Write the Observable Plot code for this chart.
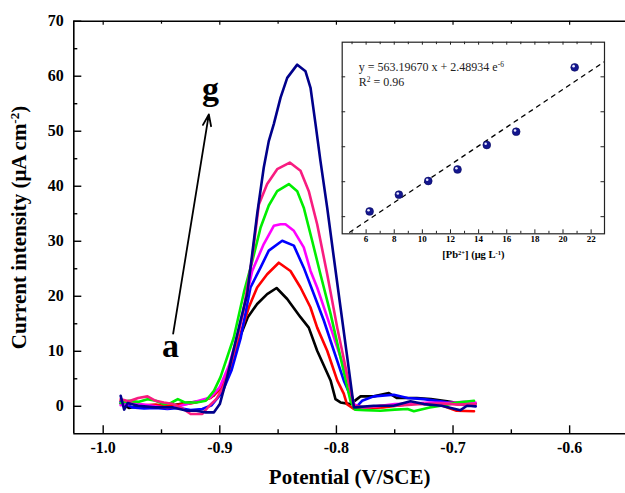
<!DOCTYPE html>
<html><head><meta charset="utf-8">
<script src="https://cdn.jsdelivr.net/npm/d3@7"></script>
<script src="https://cdn.jsdelivr.net/npm/@observablehq/plot@0.6"></script>
<style>
html,body{margin:0;padding:0;background:#fff;}
#chart{position:relative;width:625px;height:493px;}
#inset{position:absolute;left:330px;top:30px;}
</style></head><body>
<div id="chart"><div id="main"></div><div id="inset"></div></div>
<script>
// ---------- DATA ----------
const seriesNames = ["a", "b", "c", "d", "e", "f", "g"];
const seriesColors = ["#000000", "#FF0000", "#0000FF", "#FF00FF", "#00EE00", "#F81C80", "#00008B"];

// [potential (V/SCE), current (µA cm^-2)]
const curveA = [[-0.985,0.5],[-0.978,-0.3],[-0.97,0.0],[-0.96,-0.2],[-0.95,-0.1],[-0.94,0.2],[-0.93,0.6],[-0.92,0.8],[-0.912,1.2],[-0.905,2.0],[-0.898,4.0],[-0.89,8.0],[-0.882,13.0],[-0.876,16.2],[-0.868,18.6],[-0.8594,20.4],[-0.8513,21.5],[-0.8422,19.5],[-0.8308,16.2],[-0.8237,14.3],[-0.8165,10.1],[-0.805,4.7],[-0.8008,1.3],[-0.7965,0.7],[-0.788,0.4],[-0.7793,1.8],[-0.768,1.8],[-0.755,2.4],[-0.748,1.5],[-0.731,1.5],[-0.719,1.3],[-0.705,0.9],[-0.6907,0.4],[-0.6807,0.5]];
const curveB = [[-0.985,1.0],[-0.975,0.6],[-0.965,0.2],[-0.955,0.3],[-0.945,0.0],[-0.935,0.3],[-0.925,0.5],[-0.915,1.0],[-0.908,1.5],[-0.9,3.0],[-0.892,6.5],[-0.884,12],[-0.8751,18],[-0.868,21.6],[-0.8594,24],[-0.8494,26.1],[-0.8394,24.6],[-0.8308,21.6],[-0.8223,18],[-0.8165,14.3],[-0.8079,10.1],[-0.7993,4.7],[-0.7937,2.3],[-0.791,0.4],[-0.785,-0.5],[-0.77,-0.3],[-0.76,-0.2],[-0.745,0.2],[-0.733,0.5],[-0.72,0.4],[-0.71,0.2],[-0.697,-0.8],[-0.682,-0.9]];
const curveC = [[-0.985,0.8],[-0.975,-0.2],[-0.965,-0.4],[-0.955,-0.3],[-0.945,-0.5],[-0.935,-0.3],[-0.925,-0.7],[-0.915,-0.5],[-0.907,0.2],[-0.898,2.5],[-0.89,6.5],[-0.882,12.5],[-0.8737,21.6],[-0.8651,25.2],[-0.858,28.3],[-0.8465,30.1],[-0.8365,29.2],[-0.828,25.2],[-0.8194,20.4],[-0.8108,15.6],[-0.8022,10.1],[-0.7937,4.7],[-0.785,0.4],[-0.7836,-0.3],[-0.778,1.0],[-0.768,1.8],[-0.7508,2.1],[-0.739,1.5],[-0.725,1.3],[-0.7107,0.9],[-0.6964,0.4],[-0.6807,0.0]];
const curveD = [[-0.985,0.2],[-0.975,0.5],[-0.965,0.3],[-0.955,0.0],[-0.945,-0.3],[-0.935,0.0],[-0.925,0.6],[-0.915,1.2],[-0.908,1.6],[-0.9,3.5],[-0.892,7.5],[-0.884,13.5],[-0.8722,24.6],[-0.8623,29.5],[-0.8537,32.8],[-0.8479,33.1],[-0.8437,33.1],[-0.8365,31.9],[-0.828,28.9],[-0.8222,24.6],[-0.8165,21.6],[-0.8079,16.2],[-0.7993,10.7],[-0.7907,5.3],[-0.785,0.4],[-0.778,-0.3],[-0.765,0.0],[-0.75,0.4],[-0.735,0.5],[-0.72,0.7],[-0.705,0.6],[-0.69,0.8],[-0.6807,0.7]];
const curveE = [[-0.985,0.6],[-0.978,1.0],[-0.97,0.8],[-0.962,1.3],[-0.955,1.0],[-0.948,0.4],[-0.942,0.6],[-0.936,1.3],[-0.93,0.7],[-0.92,0.7],[-0.912,1.0],[-0.905,2.8],[-0.8994,5.3],[-0.888,12.5],[-0.879,21],[-0.872,26.5],[-0.865,32.5],[-0.858,36.5],[-0.8508,39.1],[-0.8408,40.4],[-0.8336,39.1],[-0.828,36.1],[-0.8208,30.1],[-0.8137,24],[-0.805,16.8],[-0.7965,8.9],[-0.788,1.0],[-0.784,-0.6],[-0.775,-0.7],[-0.7622,-0.8],[-0.75,-0.6],[-0.739,-0.5],[-0.7336,-0.9],[-0.72,-0.2],[-0.705,0.3],[-0.6964,0.7],[-0.682,1.0]];
const curveF = [[-0.985,1.3],[-0.978,0.9],[-0.97,1.5],[-0.962,1.8],[-0.955,1.0],[-0.948,0.7],[-0.94,0.4],[-0.932,-0.4],[-0.925,-1.4],[-0.915,-1.4],[-0.909,0.1],[-0.903,1.3],[-0.897,3.5],[-0.889,9],[-0.88,17],[-0.8722,27],[-0.8665,36.7],[-0.8594,40.4],[-0.8508,43.1],[-0.84,44.3],[-0.8308,42.8],[-0.8237,39.1],[-0.8165,33.1],[-0.8079,24],[-0.7993,14.3],[-0.791,5.9],[-0.785,0.1],[-0.775,-0.2],[-0.762,0.1],[-0.748,0.1],[-0.73,0.4],[-0.71,0.5],[-0.695,0.3],[-0.6807,0.4]];
const curveG = [[-0.985,1.9],[-0.982,-0.6],[-0.979,0.6],[-0.976,0.4],[-0.97,0.1],[-0.955,-0.2],[-0.94,-0.2],[-0.928,-0.8],[-0.92,-0.8],[-0.912,-1.1],[-0.905,-1.1],[-0.9,0.4],[-0.8937,5.3],[-0.8822,15.6],[-0.8765,20.4],[-0.8722,27.7],[-0.868,34.9],[-0.8623,43.4],[-0.858,48.2],[-0.8537,51.3],[-0.8479,56.1],[-0.8422,59.7],[-0.8336,62.1],[-0.8265,60.9],[-0.8222,57.9],[-0.8179,51.3],[-0.8137,44.6],[-0.8079,36.1],[-0.8022,27],[-0.7965,18],[-0.7907,8.9],[-0.785,-0.2],[-0.768,0.1],[-0.751,0.1],[-0.7365,0.9],[-0.725,0.4],[-0.71,0.1],[-0.6936,-0.7],[-0.688,0.1],[-0.6807,0.0]];

const potentialDomain = [-1.0252, -0.5521];
const currentDomain = [-5, 70];
const potentialTicks = [-1.0, -0.9, -0.8, -0.7, -0.6];
const potentialMinorTicks = [-0.95, -0.85, -0.75, -0.65];
const currentTicks = [0, 10, 20, 30, 40, 50, 60, 70];
const currentMinorTicks = [5, 15, 25, 35, 45, 55, 65];

const labelMarks = [{text: "g", potential: -0.908, current: 55.6}, {text: "a", potential: -0.9423, current: 8.9}];
const arrowData = [{x1: -0.94, y1: 13.2, x2: -0.9094, y2: 53.05}];

// inset: calibration
const leadConc = [6.25, 8.33, 10.42, 12.5, 14.58, 16.67, 20.83];
const peakCurrent = [21.5, 26.3, 30.2, 33.5, 40.5, 44.3, 62.7];
const insetXDomain = [4.3, 22.95];
const insetYDomain = [15.1, 69.9];
const insetXTicks = [6, 8, 10, 12, 14, 16, 18, 20, 22];
const insetXMinorTicks = [5, 7, 9, 11, 13, 15, 17, 19, 21];
const insetYTicks = [20, 30, 40, 50, 60];
const equationLines = ["y = 563.19670 x + 2.48934 e^{-6}", "R^{2} = 0.96"];

// ---------- BUILD ----------
const serif = "'Liberation Serif','Times New Roman',serif";
const rows = [curveA, curveB, curveC, curveD, curveE, curveF, curveG]
  .flatMap((c, i) => c.map(([p, v]) => ({series: seriesNames[i], potential: p, current: v})));

const W = 625, H = 493, mL = 73.3, mR = 0, mT = 20.7, mB = 59.7;
const innerW = W - mL - mR, innerH = H - mT - mB;

const main = Plot.plot({
  width: W, height: H,
  marginLeft: mL, marginRight: mR, marginTop: mT, marginBottom: mB,
  x: {domain: potentialDomain, axis: null},
  y: {domain: currentDomain, axis: null},
  color: {domain: seriesNames, range: seriesColors},
  style: {fontFamily: serif, fontSize: "16px", fontWeight: "bold", background: "transparent", overflow: "visible"},
  marks: [
    Plot.line(rows, {x: "potential", y: "current", z: "series", stroke: "series", strokeWidth: 2.6, strokeLinejoin: "round", strokeLinecap: "round"}),
    // frame (left, bottom, top)
    Plot.ruleY([currentDomain[0]], {stroke: "black", strokeWidth: 1.6}),
    Plot.ruleY([currentDomain[1]], {stroke: "black", strokeWidth: 1.4}),
    Plot.ruleX([potentialDomain[0]], {stroke: "black", strokeWidth: 1.6}),
    // inward ticks
    Plot.ruleX(potentialTicks, {x: d => d, insetTop: innerH - 8, stroke: "black", strokeWidth: 1.4}),
    Plot.ruleX(potentialMinorTicks, {x: d => d, insetTop: innerH - 4, stroke: "black", strokeWidth: 1.4}),
    Plot.ruleX(potentialTicks, {x: d => d, insetBottom: innerH - 4, stroke: "black", strokeWidth: 1.2}),
    Plot.ruleX(potentialMinorTicks, {x: d => d, insetBottom: innerH - 3, stroke: "black", strokeWidth: 1.2}),
    Plot.ruleY(currentTicks, {y: d => d, insetRight: innerW - 8, stroke: "black", strokeWidth: 1.4}),
    Plot.ruleY(currentMinorTicks, {y: d => d, insetRight: innerW - 4, stroke: "black", strokeWidth: 1.4}),
    // tick labels
    Plot.text(potentialTicks, {x: d => d, frameAnchor: "bottom", dy: 18.7, text: d => d.toFixed(1), fontSize: 16, fontWeight: "bold"}),
    Plot.text(currentTicks, {y: d => d, frameAnchor: "left", dx: -10, textAnchor: "end", text: d => String(d), fontSize: 16, fontWeight: "bold"}),
    // axis titles
    Plot.text(["Potential (V/SCE)"], {frameAnchor: "bottom", dy: 50, text: d => d, textAnchor: "middle", fontSize: 21, fontWeight: "bold"}),
    Plot.text(["Current intensity (\u03BCA cm^{-2})"], {frameAnchor: "left", dx: -55, rotate: -90, textAnchor: "middle", text: d => d, fontSize: 21, fontWeight: "bold"}),
    // annotation
    Plot.arrow(arrowData, {x1: "x1", y1: "y1", x2: "x2", y2: "y2", stroke: "black", strokeWidth: 1.8, headLength: 10, headAngle: 40}),
    Plot.text(labelMarks, {x: "potential", y: "current", text: "text", lineAnchor: "bottom", fontSize: 34, fontWeight: "bold"})
  ]
});
document.getElementById("main").appendChild(main);

// inset
const n = leadConc.length;
const mx = d3.mean(leadConc), my = d3.mean(peakCurrent);
let sxy = 0, sxx = 0;
for (let i = 0; i < n; i++) { sxy += (leadConc[i] - mx) * (peakCurrent[i] - my); sxx += (leadConc[i] - mx) ** 2; }
const slope = sxy / sxx, intercept = my - slope * mx;
const fitLine = insetXDomain.map(x => ({x, y: intercept + slope * x}));
const points = leadConc.map((c, i) => ({conc: c, peak: peakCurrent[i]}));

const iW = 285, iH = 240, imL = 11.7, imT = 11.7, imR = 11, imB = 36.7;
const iInnerW = iW - imL - imR, iInnerH = iH - imT - imB;
const inset = Plot.plot({
  width: iW, height: iH,
  marginLeft: imL, marginRight: imR, marginTop: imT, marginBottom: imB,
  x: {domain: insetXDomain, axis: null},
  y: {domain: insetYDomain, axis: null},
  style: {fontFamily: serif, fontSize: "12px", background: "transparent", overflow: "visible"},
  marks: [
    Plot.frame({fill: "white", stroke: "none"}),
    Plot.line(fitLine, {x: "x", y: "y", stroke: "black", strokeWidth: 1.3, strokeDasharray: "4,5", clip: true}),
    Plot.frame({stroke: "#222", strokeWidth: 1.2}),
    Plot.ruleX(insetXTicks, {x: d => d, insetTop: iInnerH - 4, stroke: "#222"}),
    Plot.ruleX(insetXMinorTicks, {x: d => d, insetTop: iInnerH - 2.5, stroke: "#222"}),
    Plot.ruleX(insetXTicks, {x: d => d, insetBottom: iInnerH - 3, stroke: "#222"}),
    Plot.ruleX(insetXMinorTicks, {x: d => d, insetBottom: iInnerH - 2.5, stroke: "#222"}),
    Plot.ruleY(insetYTicks, {y: d => d, insetRight: iInnerW - 3.5, stroke: "#222"}),
    Plot.ruleY(insetYTicks, {y: d => d, insetLeft: iInnerW - 3.5, stroke: "#222"}),
    Plot.text(insetXTicks, {x: d => d, frameAnchor: "bottom", dy: 8.4, text: d => String(d), fontSize: 9, fontWeight: "bold"}),
    Plot.text(["[Pb^{2+}] (\u03BCg L^{-1})"], {frameAnchor: "bottom", dy: 24.5, text: d => d, textAnchor: "middle", fontSize: 10.5, fontWeight: "bold"}),
    Plot.text([equationLines[0]], {frameAnchor: "top-left", dx: 16.6, dy: 28.3, text: d => d, textAnchor: "start", lineAnchor: "bottom", fontSize: 12, fill: "#222"}),
    Plot.text([equationLines[1]], {frameAnchor: "top-left", dx: 16.6, dy: 43.3, text: d => d, textAnchor: "start", lineAnchor: "bottom", fontSize: 12, fill: "#222"}),
    Plot.dot(points, {x: "conc", y: "peak", r: 3.9, fill: "#13168F", stroke: "#0a0c60", strokeWidth: 0.6}),
    Plot.dot(points, {x: "conc", y: "peak", r: 1.3, fill: "#e8e8ff", dx: -1.1, dy: -1.2})
  ]
});
document.getElementById("inset").appendChild(inset);

// superscripts: replace ^{...} with raised tspans
function supify(svg) {
  svg.querySelectorAll("text, tspan").forEach(el => {
    Array.from(el.childNodes).forEach(node => {
      if (node.nodeType !== 3 || !node.nodeValue.includes("^{")) return;
      const parts = node.nodeValue.split(/(\^\{[^}]*\})/);
      const frag = document.createDocumentFragment();
      parts.forEach(p => {
        if (!p) return;
        const m = p.match(/^\^\{([^}]*)\}$/);
        if (m) {
          const t = document.createElementNS("http://www.w3.org/2000/svg", "tspan");
          t.setAttribute("baseline-shift", "super");
          t.setAttribute("font-size", "62%");
          t.textContent = m[1];
          frag.appendChild(t);
        } else frag.appendChild(document.createTextNode(p));
      });
      node.replaceWith(frag);
    });
  });
}
supify(main);
supify(inset);
</script>
</body></html>
